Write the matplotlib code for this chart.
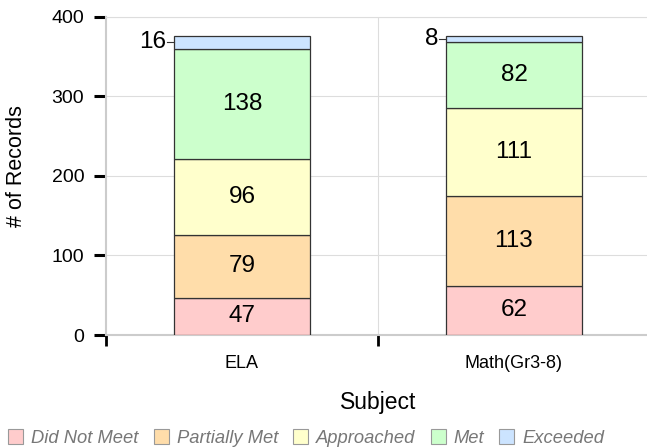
import matplotlib
matplotlib.use("Agg")
import matplotlib.pyplot as plt
from matplotlib.patches import Rectangle
import numpy as np

plt.rcParams['font.family'] = ['Liberation Sans', 'DejaVu Sans']

subjects = ["ELA", "Math(Gr3-8)"]
levels = ["Did Not Meet", "Partially Met", "Approached", "Met", "Exceeded"]
did_not_meet = [47, 62]
partially_met = [79, 113]
approached = [96, 111]
met = [138, 82]
exceeded = [16, 8]
colors = ["#FFCCCC", "#FFDDAA", "#FFFFCC", "#CCFFCC", "#CCE4FF"]
yticks = [0, 100, 200, 300, 400]

series = [did_not_meet, partially_met, approached, met, exceeded]

W, H = 647, 448
fig = plt.figure(figsize=(W / 100, H / 100), dpi=100)
ax = fig.add_axes([106 / W, 1 - 335 / H, 544 / W, 318 / H])

x = np.arange(len(subjects))
bottom = np.zeros(len(subjects))
for vals, col in zip(series, colors):
    ax.bar(x, vals, 0.5, bottom=bottom, color=col, edgecolor="#333333", linewidth=0.9, zorder=3)
    for i, v in enumerate(vals):
        if v >= 40:
            ax.text(x[i], bottom[i] + v / 2, str(v), ha="center", va="center", fontsize=17.5, zorder=4)
        else:
            yy = bottom[i] + v / 2
            ax.plot([x[i] - 0.25 - 0.026, x[i] - 0.25], [yy, yy], color="#333333", lw=0.8, zorder=4,
                    clip_on=False)
            ax.text(x[i] - 0.25 - 0.028, yy, str(v), ha="right", va="center", fontsize=17.5, zorder=4)
    bottom += np.array(vals)

ax.set_xlim(-0.5, 1.5)
ax.set_ylim(0, 400)
ax.set_yticks(yticks)
ax.set_yticklabels([str(t) for t in yticks], fontsize=14)
ax.set_xticks([-0.5, 0.5])
ax.set_xticklabels([])
ax.set_xticks(x, minor=True)
ax.set_xticklabels(subjects, minor=True, fontsize=13)
ax.tick_params(axis="x", which="minor", length=0, pad=14.4)
ax.tick_params(axis="x", which="major", length=8, width=2, direction="out", color="black")
ax.tick_params(axis="y", length=8.6, width=2.2, color="black", pad=7)

ax.grid(axis="y", color="#DDDDDD", lw=0.8, zorder=0)
ax.axvline(0.5, color="#DDDDDD", lw=0.8, zorder=0)
for s in ["left", "bottom"]:
    ax.spines[s].set_color("#CCCCCC")
    ax.spines[s].set_linewidth(1.5)
ax.spines["top"].set_color("#DDDDDD")
ax.spines["top"].set_linewidth(0.8)
ax.spines["right"].set_visible(False)

ax.text(0.5, (335 - 402) / 318, "Subject", transform=ax.transAxes, ha="center", va="center",
        fontsize=16.5)
ax.text((17 - 106) / 544, (335 - 166) / 318, "# of Records", transform=ax.transAxes, ha="center",
        va="center", rotation=90, fontsize=15.5)

# legend
handles = [Rectangle((0, 0), 1, 1, facecolor=c, edgecolor="#999999", lw=0.8) for c in colors]
leg = fig.legend(handles, levels, loc="center left", bbox_to_anchor=(8 / W, 1 - 438 / H), ncol=5,
                 frameon=False, handlelength=0.82, handleheight=0.82, handletextpad=0.44,
                 columnspacing=0.82, borderpad=0, borderaxespad=0,
                 prop={"style": "italic", "size": 13.2})
for t in leg.get_texts():
    t.set_color("#777777")

fig.savefig("out.png", dpi=100)
